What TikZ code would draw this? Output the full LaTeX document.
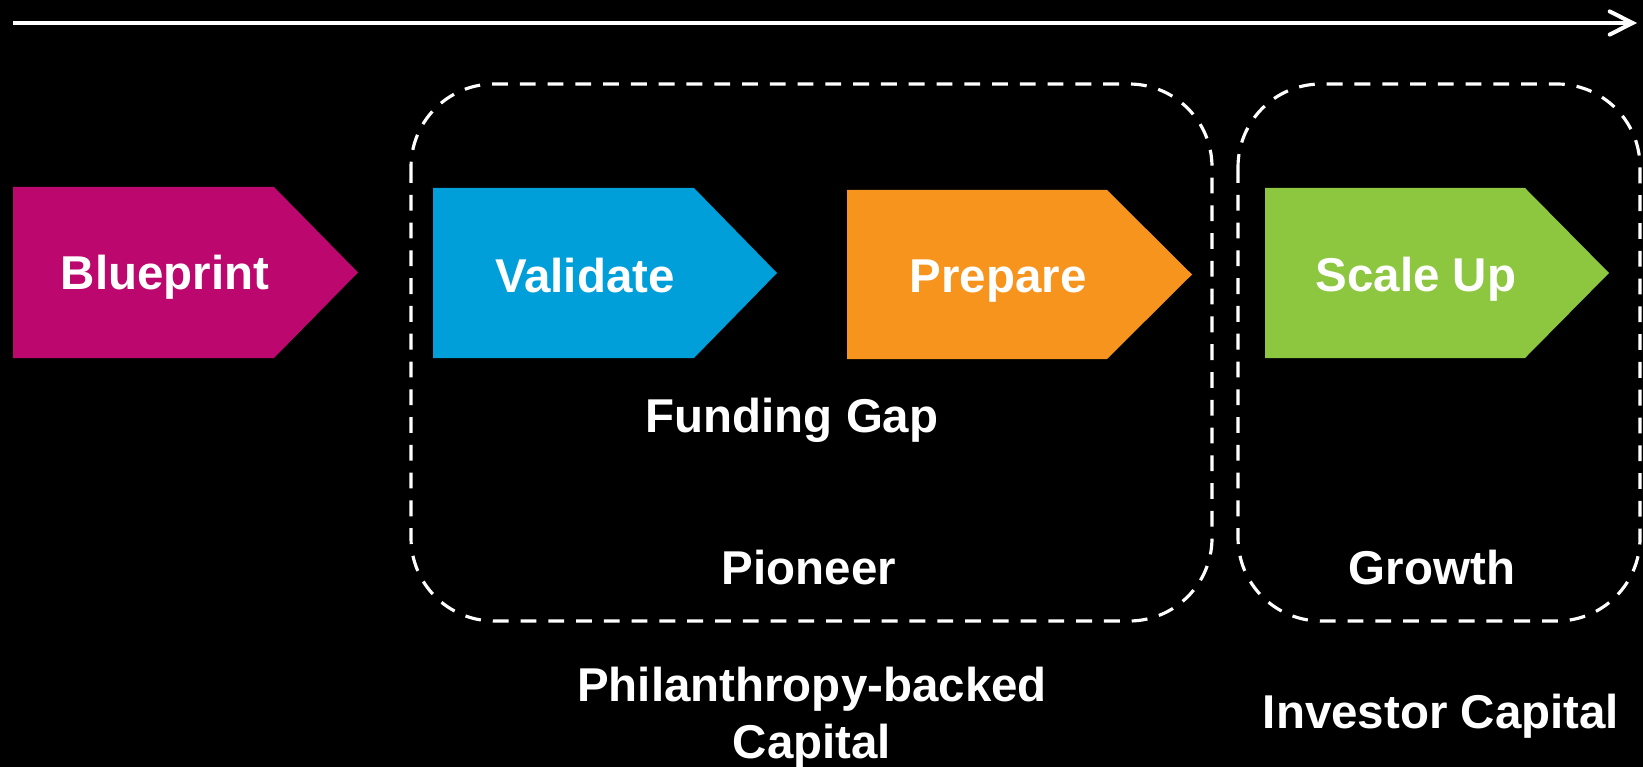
\documentclass[tikz,border=0pt]{standalone}
\usepackage{fontspec}
\setmainfont{Liberation Sans}
\usetikzlibrary{arrows.meta}
\definecolor{cBlue}{RGB}{0,159,218}
\definecolor{cMag}{RGB}{188,8,110}
\definecolor{cOra}{RGB}{247,148,30}
\definecolor{cGre}{RGB}{141,198,63}
\tikzset{
  lbl/.style={text=white,font=\fontsize{13.5}{16.2}\selectfont\bfseries,inner sep=0pt,align=center},
  bl/.style={lbl,anchor=base},
  dashbox/.style={draw=white,line width=0.9pt,dash pattern=on 4.5pt off 3.4pt,rounded corners=0.83cm},
  timeline/.style={draw=white,line width=1.15pt,-{Straight Barb[length=6.5pt,width=6.6pt,line width=1.15pt,line cap=round]}}
}
\begin{document}
\begin{tikzpicture}[x=0.01cm,y=-0.01cm]
\fill[black] (0,0) rectangle (1643,767);
\useasboundingbox (0,0) rectangle (1643,767);
% timeline
\coordinate (tl) at (13,23);
\coordinate (tr) at (1637,23);
\draw[timeline] (tl) -- (tr);
% dashed groups
\draw[dashbox] (411,84) rectangle (1212,621);
\draw[dashbox] (1238,84) rectangle (1640,621);
% chevrons
\fill[cMag] (13,187) -- (274,187) -- (358,272.5) -- (274,358) -- (13,358) -- cycle;
\fill[cBlue] (433,188) -- (694,188) -- (777,273) -- (694,358) -- (433,358) -- cycle;
\fill[cOra] (847,190) -- (1107,190) -- (1192,274.5) -- (1107,359) -- (847,359) -- cycle;
\fill[cGre] (1265,188) -- (1525,188) -- (1609,273) -- (1525,358) -- (1265,358) -- cycle;
\node[bl] (blueprint) at (165,289) {Blueprint};
\node[bl] (validate) at (585,292) {Validate};
\node[bl] (prepare) at (998,292) {Prepare};
\node[bl] (scaleup) at (1416,291) {Scale Up};
% labels
\node[bl] (gap) at (792,432) {Funding Gap};
\node[bl] (pioneer) at (809,584) {Pioneer};
\node[bl] (growth) at (1432,584) {Growth};
\node[lbl] (phil) at (812,718) {Philanthropy-backed\\Capital};
\node[bl] (investor) at (1441,728) {Investor Capital};
\end{tikzpicture}
\end{document}
